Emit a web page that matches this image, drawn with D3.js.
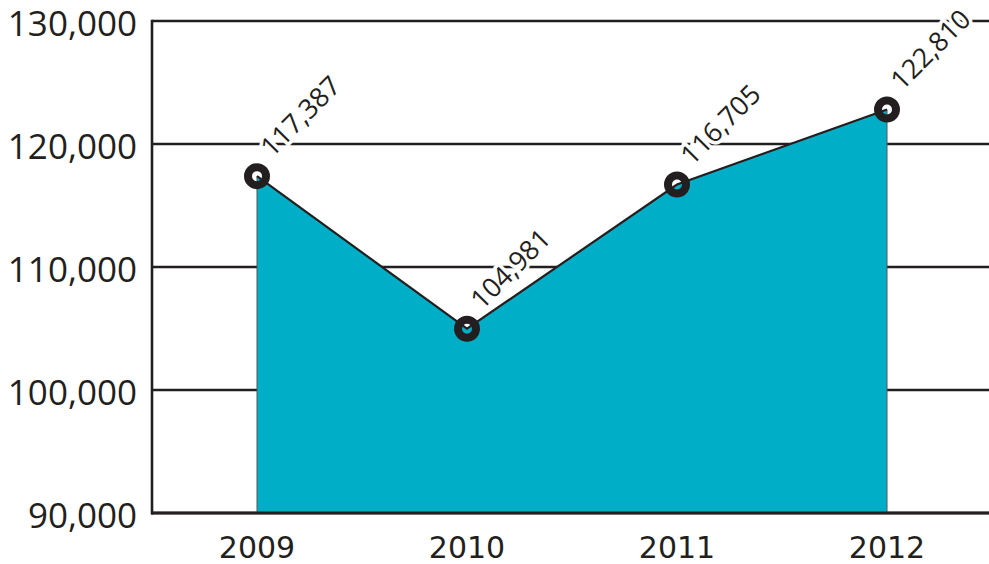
<!DOCTYPE html>
<html>
<head>
<meta charset="utf-8">
<script src="https://cdn.jsdelivr.net/npm/d3@7"></script>
<style>
  body { margin: 0; background: #fff; }
  svg { display: block; }
</style>
</head>
<body>
<div id="app"></div>
<script>
const years = ["2009", "2010", "2011", "2012"];
const visitors = [117387, 104981, 116705, 122810];
const yTicks = [90000, 100000, 110000, 120000, 130000];

let width = 989;
let height = 564;
const ink = "#231f20";
const teal = "#00afc7";

const x = d3.scaleBand().domain(years).range([152, 992]);
const y = d3.scaleLinear().domain([90000, 130000]).range([513, 21]);
const cx = d => x(d) + x.bandwidth() / 2;

const svg = d3.select("#app").append("svg")
  .attr("width", width)
  .attr("height", height);

// grid lines
svg.append("g")
  .selectAll("line")
  .data(yTicks)
  .join("line")
  .attr("x1", 152).attr("x2", width)
  .attr("y1", d => y(d)).attr("y2", d => y(d))
  .attr("stroke", ink)
  .attr("stroke-width", 2.4);

const pts = years.map((yr, i) => [cx(yr), y(visitors[i])]);

// area
const area = d3.area()
  .x(d => d[0])
  .y0(y(90000))
  .y1(d => d[1]);
svg.append("path")
  .datum(pts)
  .attr("d", area)
  .attr("fill", teal)
  .attr("stroke", "#555")
  .attr("stroke-width", 1);

svg.append("path")
  .datum(pts)
  .attr("d", d3.line())
  .attr("fill", "none")
  .attr("stroke", ink)
  .attr("stroke-width", 2.2);

// axes lines
svg.append("line")
  .attr("x1", 152).attr("x2", 152)
  .attr("y1", y(130000) - 1.2).attr("y2", y(90000) + 1.5)
  .attr("stroke", ink).attr("stroke-width", 2.6);
svg.append("line")
  .attr("x1", 151).attr("x2", width)
  .attr("y1", y(90000)).attr("y2", y(90000))
  .attr("stroke", ink).attr("stroke-width", 3);

// y axis labels
const yAxis = svg.append("g")
  .attr("transform", "translate(152,0)")
  .call(d3.axisLeft(y).tickValues(yTicks).tickSize(0).tickPadding(15).tickFormat(d3.format(",")));
yAxis.select(".domain").remove();
yAxis.selectAll("text")
  .attr("dy", "0.42em")
  .attr("fill", ink)
  .style("font-family", "'Open Sans', sans-serif")
  .style("font-size", "35px");

// x axis labels
const xAxis = svg.append("g")
  .attr("transform", `translate(0,${y(90000)})`)
  .call(d3.axisBottom(x).tickSize(0).tickPadding(24));
xAxis.select(".domain").remove();
xAxis.selectAll("text")
  .attr("fill", ink)
  .style("font-family", "'DejaVu Sans', sans-serif")
  .style("font-size", "30px");

// value labels (drawn before markers so the halo doesn't eat the rings)
svg.append("g")
  .selectAll("text")
  .data(pts)
  .join("text")
  .attr("transform", d => `translate(${d[0] + 15},${d[1] - 18}) rotate(-45)`)
  .text((d, i) => d3.format(",")(visitors[i]))
  .attr("fill", ink)
  .attr("stroke", "#fff")
  .attr("stroke-width", 7)
  .attr("paint-order", "stroke")
  .style("font-family", "'Open Sans', sans-serif")
  .style("font-size", "27px");

// markers
svg.append("g")
  .selectAll("circle")
  .data(pts)
  .join("circle")
  .attr("cx", d => d[0])
  .attr("cy", d => d[1])
  .attr("r", 9)
  .attr("fill", "none")
  .attr("stroke", ink)
  .attr("stroke-width", 8);
</script>
</body>
</html>
